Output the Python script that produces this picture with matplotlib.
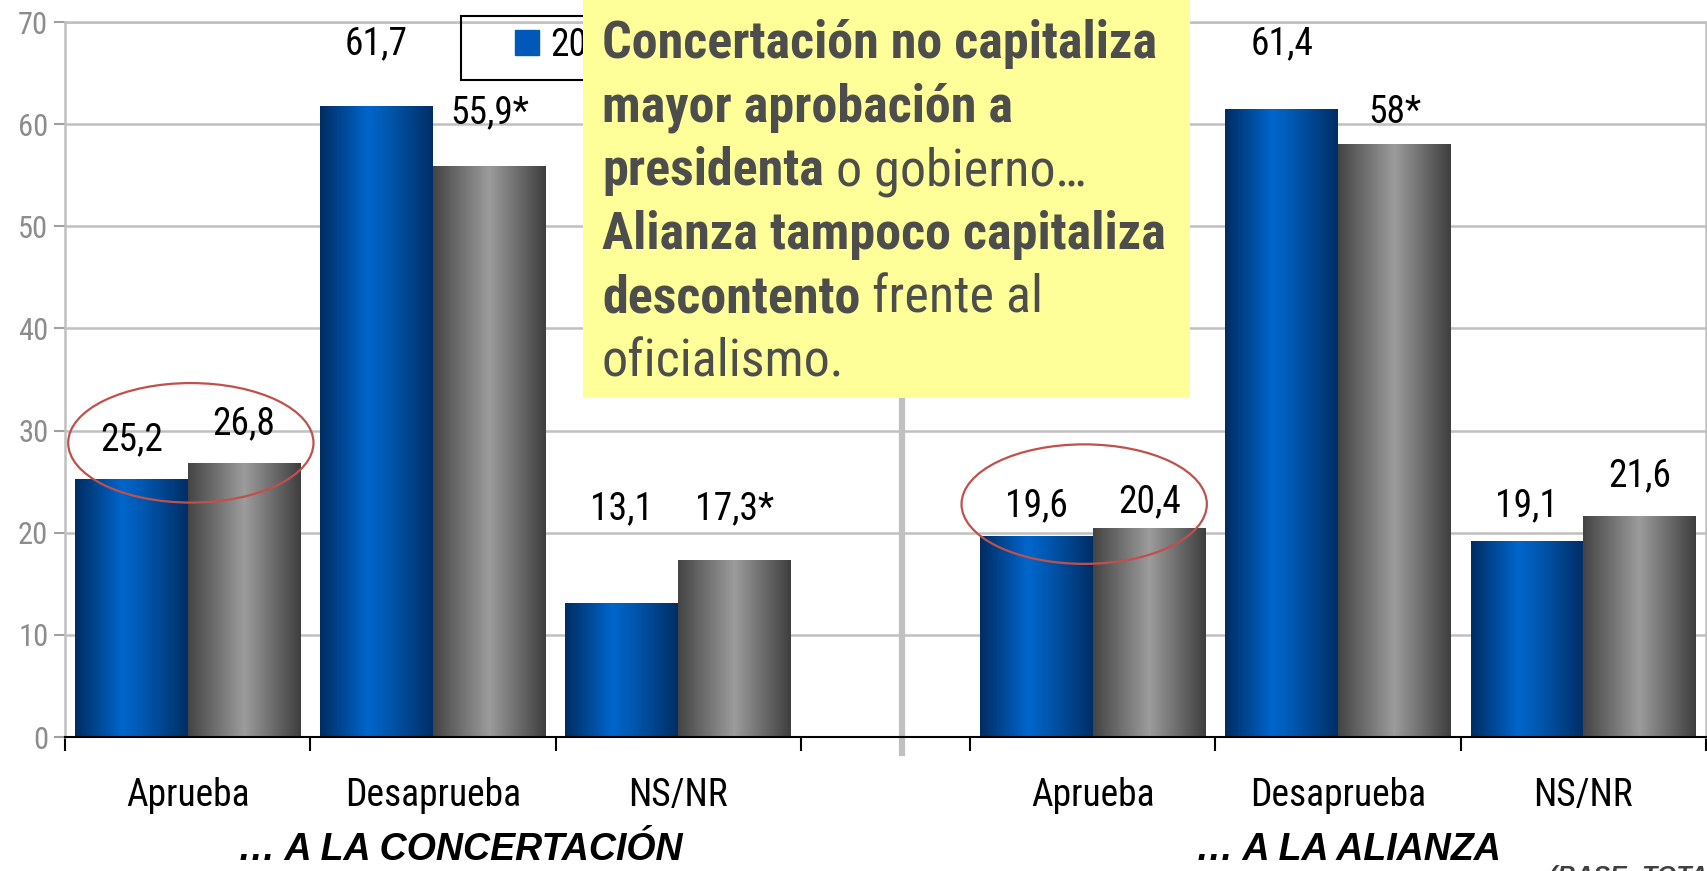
import matplotlib
matplotlib.use("Agg")
import matplotlib.pyplot as plt
import numpy as np
from matplotlib import font_manager
from matplotlib.colors import LinearSegmentedColormap
from matplotlib.patches import Ellipse, Rectangle, Patch

# ---- data ----
categories = ["Aprueba", "Desaprueba", "NS/NR"]
group_titles = ["… A LA CONCERTACIÓN", "… A LA ALIANZA"]
series_names = ["2009", "2010"]

concertacion_a = [25.2, 61.7, 13.1]
concertacion_b = [26.8, 55.9, 17.3]
alianza_a = [19.6, 61.4, 19.1]
alianza_b = [20.4, 58.0, 21.6]

labels_conc_a = ["25,2", "61,7", "13,1"]
labels_conc_b = ["26,8", "55,9*", "17,3*"]
labels_ali_a = ["19,6", "61,4", "19,1"]
labels_ali_b = ["20,4", "58*", "21,6"]

yticks = [0, 10, 20, 30, 40, 50, 60, 70]

# label heights as placed by hand in the original (data units)
laby_conc_a = [28.1, 66.8, 21.3]
laby_conc_b = [29.6, 60.1, 21.3]
laby_ali_a = [21.6, 66.8, 21.6]
laby_ali_b = [22.0, 60.1, 24.5]

note_lines = [
    [("Concertación no capitaliza", "bold")],
    [("mayor aprobación a", "bold")],
    [("presidenta", "bold"), (" o gobierno…", "normal")],
    [("Alianza tampoco capitaliza", "bold")],
    [("descontento", "bold"), (" frente al", "normal")],
    [("oficialismo.", "normal")],
]

# ---- fonts ----
names = {f.name for f in font_manager.fontManager.ttflist}
narrow = "DejaVu Sans"
for cand in ["Roboto Condensed", "PT Sans Narrow", "Archivo Narrow"]:
    if cand in names:
        narrow = cand
        break
plt.rcParams["font.family"] = [narrow, "DejaVu Sans"]

W, H = 1708, 871
fig = plt.figure(figsize=(W / 100, H / 100), dpi=100)
ax = fig.add_axes([65 / W, 134 / H, (1706 - 65) / W, (849 - 134) / H])

left_centers = np.array([0.0, 1.0, 2.0])
right_centers = np.array([3.69, 4.69, 5.69])
bw = 0.46

blue_cmap = LinearSegmentedColormap.from_list(
    "b", [(0, "#002C62"), (0.42, "#0066CC"), (0.6, "#0058B0"), (1, "#002E66")])
gray_cmap = LinearSegmentedColormap.from_list(
    "g", [(0, "#444444"), (0.5, "#9C9C9C"), (1, "#3E3E3E")])
grad = np.linspace(0, 1, 256)[None, :]

def grad_bars(xs, vals, cmap):
    bars = ax.bar(xs, vals, bw, color="none", zorder=2)
    for p in bars:
        x0 = p.get_x()
        ax.imshow(grad, extent=[x0, x0 + p.get_width(), 0, p.get_height()],
                  aspect="auto", cmap=cmap, zorder=2, interpolation="bilinear")
    return bars

grad_bars(left_centers - bw / 2, concertacion_a, blue_cmap)
grad_bars(left_centers + bw / 2, concertacion_b, gray_cmap)
grad_bars(right_centers - bw / 2, alianza_a, blue_cmap)
grad_bars(right_centers + bw / 2, alianza_b, gray_cmap)

def put_labels(xs, labs, ys):
    for x, t, y in zip(xs, labs, ys):
        ax.text(x, y, t, ha="center", va="baseline", fontsize=27, color="black", zorder=5)

put_labels(left_centers - bw / 2, labels_conc_a, laby_conc_a)
put_labels(left_centers + bw / 2, labels_conc_b, laby_conc_b)
put_labels(right_centers - bw / 2, labels_ali_a, laby_ali_a)
put_labels(right_centers + bw / 2, labels_ali_b, laby_ali_b)

# red ellipses around "Aprueba"
ax.add_patch(Ellipse((left_centers[0] + 0.013, 28.8), 1.0, 11.7, fill=False,
                     ec="#C0504D", lw=1.6, zorder=6))
ax.add_patch(Ellipse((right_centers[0] - 0.035, 22.8), 1.0, 11.7, fill=False,
                     ec="#C0504D", lw=1.6, zorder=6))

# divider
ax.plot([2.913, 2.913], [-1.6, 70], color="#C0C0C0", lw=4.5, clip_on=False, zorder=1.5)

ax.set_xlim(-0.5, 6.19)
ax.set_ylim(0, 70)
ax.set_yticks(yticks)
ax.set_yticklabels([str(v) for v in yticks], fontsize=22, color="#8C8C8C")
ax.tick_params(axis="y", length=8, width=1.5, color="#A0A0A0", pad=4)
ax.yaxis.grid(True, color="#C0C0C0", lw=1.8)
ax.set_axisbelow(True)

bounds = list(left_centers - 0.5) + [left_centers[-1] + 0.5] + list(right_centers - 0.5) + [right_centers[-1] + 0.5]
ax.set_xticks(bounds)
ax.set_xticklabels([""] * len(bounds))
ax.tick_params(axis="x", which="major", length=10, width=1.5, color="black")
ax.set_xticks(list(left_centers) + list(right_centers), minor=True)
ax.set_xticklabels(categories + categories, minor=True, fontsize=27)
ax.tick_params(axis="x", which="minor", length=0, pad=29)

for s in ["left", "right", "top"]:
    ax.spines[s].set_color("#C0C0C0")
    ax.spines[s].set_linewidth(1.8)
ax.spines["bottom"].set_color("black")
ax.spines["bottom"].set_linewidth(1.5)

# legend (mostly hidden by the note box)
handles = [Patch(color="#0058B8"), Patch(color="#808080")]
ax.legend(handles, series_names, loc="upper left", bbox_to_anchor=(515 / W, 1 - 27 / H),
          bbox_transform=fig.transFigure, frameon=False, ncol=2, handlelength=0.65,
          handleheight=0.65, fontsize=27, borderpad=0, borderaxespad=0,
          handletextpad=0.3, columnspacing=1.0)
fig.add_artist(Rectangle((461 / W, 1 - 80 / H), 300 / W, 64 / H, transform=fig.transFigure,
                         fill=False, ec="black", lw=1.5, zorder=3))

# yellow note box
fig.add_artist(Rectangle((583 / W, 1 - 398 / H), (1190 - 583) / W, 398 / H,
                         transform=fig.transFigure, fc="#FFFF99", ec="none", zorder=5))
fig.canvas.draw()
renderer = fig.canvas.get_renderer()
for i, line in enumerate(note_lines):
    xpix = 602
    ypix = H - (58 + 63.6 * i)
    for txt, wt in line:
        t = fig.text(xpix / W, ypix / H, txt, fontsize=37.5, fontweight=wt, color="#4D4D4D",
                     ha="left", va="baseline", zorder=6)
        xpix += t.get_window_extent(renderer).width

# group titles and base note
fig.text(460 / W, 11 / H, group_titles[0], ha="center", va="baseline", fontsize=27,
         fontweight="bold", fontstyle="italic", family=["Liberation Sans", "DejaVu Sans"])
fig.text(1348 / W, 11 / H, group_titles[1], ha="center", va="baseline", fontsize=27,
         fontweight="bold", fontstyle="italic", family=["Liberation Sans", "DejaVu Sans"])
fig.text(1549 / W, -13 / H, "(BASE: TOTAL MUESTRA)", ha="left", va="baseline", fontsize=18,
         fontweight="bold", fontstyle="italic", color="#404040", family=["Liberation Sans", "DejaVu Sans"])

fig.savefig("out.png", dpi=100)
